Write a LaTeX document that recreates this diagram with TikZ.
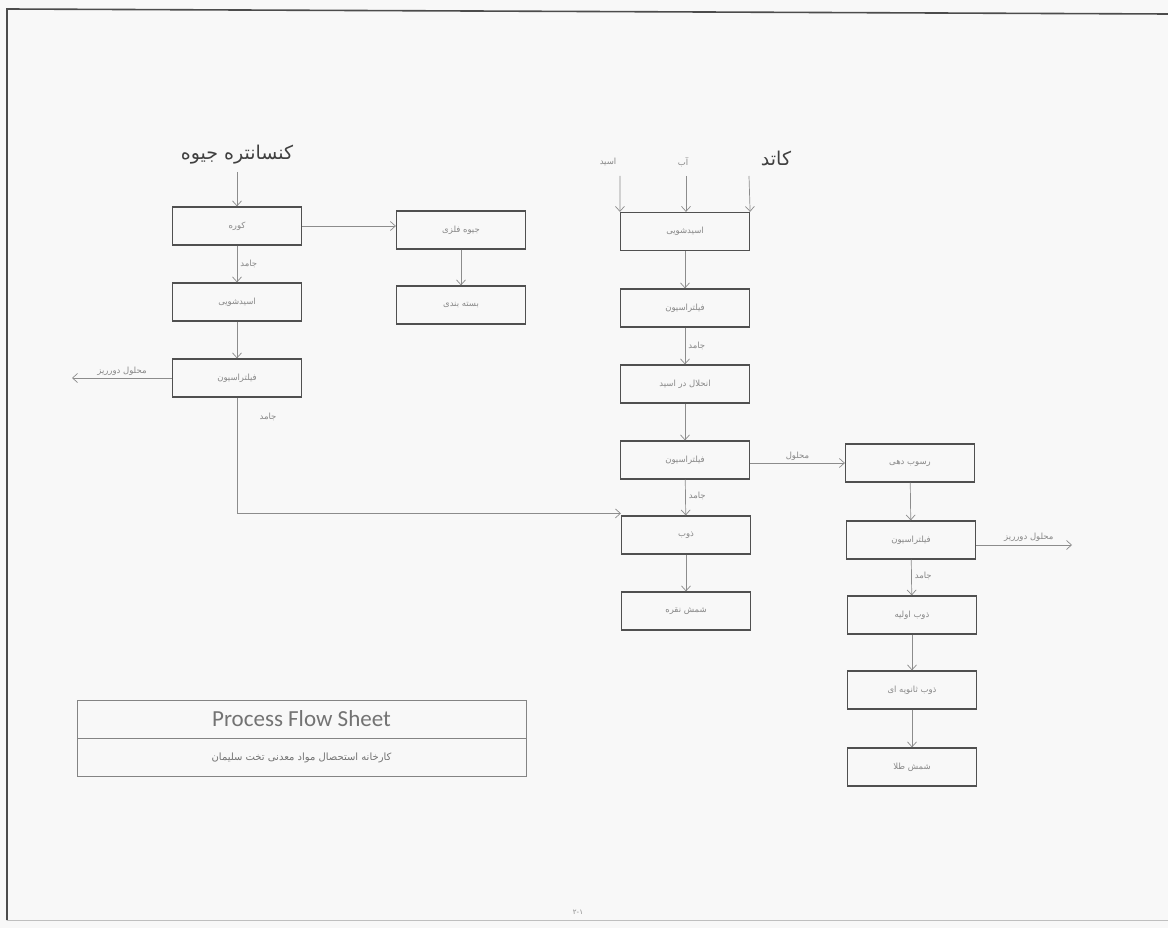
\documentclass[tikz,border=0pt]{standalone}
\usepackage{fontspec}
\usetikzlibrary{arrows.meta}
\TeXXeTstate=1
\newfontfamily\fa[Script=Arabic]{DejaVu Sans}
\newfontfamily\calfont{Carlito}
\newcommand{\RL}[1]{\beginR #1\endR}
\definecolor{bg}{RGB}{248,248,248}
\definecolor{boxline}{RGB}{80,80,80}
\definecolor{arrline}{RGB}{140,140,140}
\definecolor{txtgray}{RGB}{135,135,135}
\tikzset{
  stepbox/.style={draw=boxline, line width=1.2pt, minimum width=129pt, minimum height=38pt, inner sep=0pt,
    font=\fa\fontsize{8.5}{9}\selectfont, text=txtgray},
  flow/.style={draw=arrline, line width=0.7pt, -{Straight Barb[length=5pt,width=9pt]}},
  lab/.style={font=\fa\fontsize{8.5}{9}\selectfont, text=txtgray, inner sep=1pt},
  head/.style={font=\fa\fontsize{19}{20}\selectfont, text=black!75, inner sep=1pt},
  titlebox/.style={draw=boxline!70, line width=0.9pt, minimum width=449pt, minimum height=38pt, inner sep=0pt}
}
\begin{document}
\begin{tikzpicture}[x=1pt,y=-1pt]
\fill[bg] (0,0) rectangle (1168,928);
\useasboundingbox (0,0) rectangle (1168,928);
% frame
\draw[line width=1.6pt, black!70] (7,920) -- (7,9) -- (1168,14);
\draw[line width=0.6pt, black!25] (7,920) -- (1168,920);

% ---- left column ----
\node[head] (hg) at (237,155) {\RL{کنسانتره جیوه}};
\coordinate (hgin) at (237,172);
\node[stepbox] (k1) at (237,226) {\RL{کوره}};
\node[stepbox] (k2) at (237,302) {\RL{اسیدشویی}};
\node[stepbox] (k3) at (237,378) {\RL{فیلتراسیون}};
\node[stepbox] (j1) at (461,230) {\RL{جیوه فلزی}};
\node[stepbox] (j2) at (461,305) {\RL{بسته بندی}};
\coordinate (wasteL) at (72,378);

\draw[flow] (hgin) -- (k1.north);
\draw[flow] (k1) -- (k2) node[lab, pos=0.5, right=2pt] {\RL{جامد}};
\draw[flow] (k2) -- (k3);
\draw[flow] (k1.east) -- (k1.east -| j1.west);
\draw[flow] (j1) -- (j2);
\draw[flow] (k3.west) -- (wasteL) node[lab, pos=0.5, above=1pt] {\RL{محلول دورریز}};
\node[lab] (s1) at (268,417) {\RL{جامد}};

% ---- middle column ----
\node[head] (hc) at (776,158) {\RL{کاتد}};
\node[stepbox] (m1) at (685,231.5) {\RL{اسیدشویی}};
\node[stepbox] (m2) at (685,308) {\RL{فیلتراسیون}};
\node[stepbox] (m3) at (685,384) {\RL{انحلال در اسید}};
\node[stepbox] (m4) at (685,460) {\RL{فیلتراسیون}};
\node[stepbox] (m5) at (686,535) {\RL{ذوب}};
\node[stepbox] (m6) at (686,611) {\RL{شمش نقره}};
\coordinate (inA) at (620,176);
\coordinate (inB) at (686,176);
\coordinate (inC) at (749,176);
\node[lab] (la) at (608,162) {\RL{اسید}};
\node[lab] (lb) at (683,162) {\RL{آب}};
\draw[flow] (inA) -- (m1.north west);
\draw[flow] (inB) -- (inB |- m1.north);
\draw[flow] (inC) -- (m1.north east);
\draw[flow] (m1) -- (m2);
\draw[flow] (m2) -- (m3) node[lab, pos=0.5, right=2pt] {\RL{جامد}};
\draw[flow] (m3) -- (m4);
\draw[flow] (m4) -- (m5) node[lab, pos=0.45, right=2pt] {\RL{جامد}};
\draw[flow] (m5) -- (m6);
\draw[flow] (k3.south) |- ([yshift=2pt]m5.north west);

% ---- right column ----
\node[stepbox] (r1) at (910,463) {\RL{رسوب دهی}};
\node[stepbox] (r2) at (911,540) {\RL{فیلتراسیون}};
\node[stepbox] (r3) at (912,615) {\RL{ذوب اولیه}};
\node[stepbox] (r4) at (912,690) {\RL{ذوب ثانویه ای}};
\node[stepbox] (r5) at (912,767) {\RL{شمش طلا}};
\coordinate (wasteR) at (1072,545);
\draw[flow] (m4.east |- r1.west) -- (r1.west) node[lab, pos=0.5, above=1pt] {\RL{محلول}};
\draw[flow] (r1) -- (r2);
\draw[flow] (r2.east |- wasteR) -- (wasteR) node[lab, pos=0.55, above=2pt] {\RL{محلول دورریز}};
\draw[flow] (r2) -- (r3) node[lab, pos=0.45, right=2pt] {\RL{جامد}};
\draw[flow] (r3) -- (r4);
\draw[flow] (r4) -- (r5);

% ---- title block ----
\node[titlebox, font=\calfont\fontsize{23}{26}\selectfont, text=black!55] (t1) at (301.5,719) {Process Flow Sheet};
\node[titlebox, anchor=north, font=\fa\fontsize{10}{12}\selectfont, text=black!55] (t2) at (t1.south) {\RL{کارخانه استحصال مواد معدنی تخت سلیمان}};

% footer
\node[font=\fa\fontsize{7}{8}\selectfont, text=txtgray] (pg) at (578,912) {۲-۱};
\end{tikzpicture}
\end{document}
